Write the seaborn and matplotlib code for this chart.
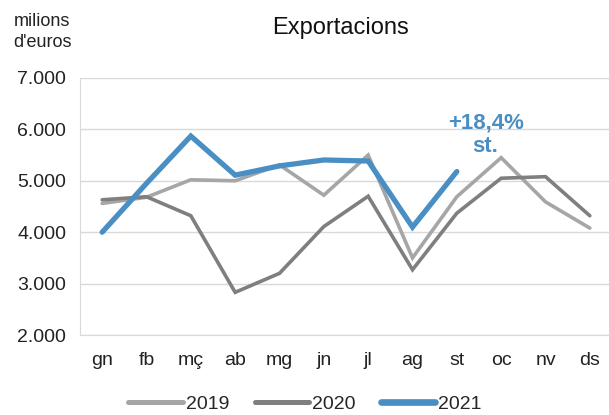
import numpy as np
import pandas as pd
import matplotlib.pyplot as plt
import seaborn as sns
from matplotlib.ticker import FuncFormatter, FixedLocator
from matplotlib.lines import Line2D

months = ['gn', 'fb', 'mç', 'ab', 'mg', 'jn', 'jl', 'ag', 'st', 'oc', 'nv', 'ds']
exp_2019 = [4560, 4680, 5020, 5000, 5310, 4720, 5500, 3500, 4690, 5450, 4590, 4080]
exp_2020 = [4630, 4690, 4320, 2830, 3200, 4110, 4700, 3270, 4370, 5050, 5080, 4320]
exp_2021 = [4000, 4950, 5870, 5110, 5290, 5405, 5385, 4100, 5180]

rows = []
for year, vals in [('2019', exp_2019), ('2020', exp_2020), ('2021', exp_2021)]:
    for i, v in enumerate(vals):
        rows.append({'mes': i, 'valor': v, 'any': year})
df = pd.DataFrame(rows)

sns.set_style('white')
plt.rcParams['font.family'] = ['Liberation Sans', 'DejaVu Sans']

fig = plt.figure(figsize=(6.09, 4.15), dpi=100)
ax = fig.add_axes([80 / 609, 1 - 335 / 415, 532 / 609, 257 / 415])

palette = {'2019': '#a6a6a6', '2020': '#7f7f7f', '2021': '#4a8fc3'}
sns.lineplot(data=df, x='mes', y='valor', hue='any', palette=palette, ax=ax, legend=False)
widths = [2.6, 2.6, 3.8]
for line, w in zip(ax.lines, widths):
    line.set_linewidth(w)
    line.set_solid_capstyle('round')
    line.set_solid_joinstyle('miter')

ax.set_xlim(-0.5, 11.5)
ax.set_ylim(2000, 7000)
ax.set_yticks(range(2000, 7001, 1000))
ax.yaxis.set_major_formatter(FuncFormatter(lambda v, p: f'{int(v):,}'.replace(',', '.')))
ax.set_xticks(range(12))
ax.set_xticklabels(months)
ax.xaxis.set_minor_locator(FixedLocator(np.arange(-0.5, 12, 1)))
ax.tick_params(axis='x', which='major', length=0, pad=12, labelsize=14, colors='#222222')
ax.tick_params(axis='x', which='minor', length=5, color='#d9d9d9', direction='out')
ax.tick_params(axis='y', length=5, color='#d9d9d9', labelsize=14, colors='#222222', pad=5)
ax.grid(axis='y', color='#d9d9d9', linewidth=1)
ax.set_xlabel('')
ax.set_ylabel('')
for s in ['top', 'right']:
    ax.spines[s].set_visible(False)
ax.spines['left'].set_color('#d9d9d9')
ax.spines['bottom'].set_color('#d9d9d9')

ax.text(8.65, 5900, '+18,4%\nst.', color='#4a8fc3', fontsize=16, fontweight='bold',
        ha='center', va='center', linespacing=1.15)

fig.text(340 / 609, 1 - 28 / 415, 'Exportacions', fontsize=17, ha='center', va='center', color='#111111')
fig.text(42 / 609, 1 - 32 / 415, "milions\nd'euros", fontsize=13, ha='center', va='center',
         color='#222222', linespacing=1.25)

handles = [Line2D([], [], color=palette[k], lw=w + 1, solid_capstyle='round')
           for k, w in zip(['2019', '2020', '2021'], widths)]
fig.legend(handles, ['2019', '2020', '2021'], loc='center', bbox_to_anchor=(305 / 609, 1 - 404 / 415),
           ncol=3, frameon=False, fontsize=14, handlelength=2.8, handletextpad=0.15, columnspacing=1.3)

fig.savefig('out.png', dpi=100)
